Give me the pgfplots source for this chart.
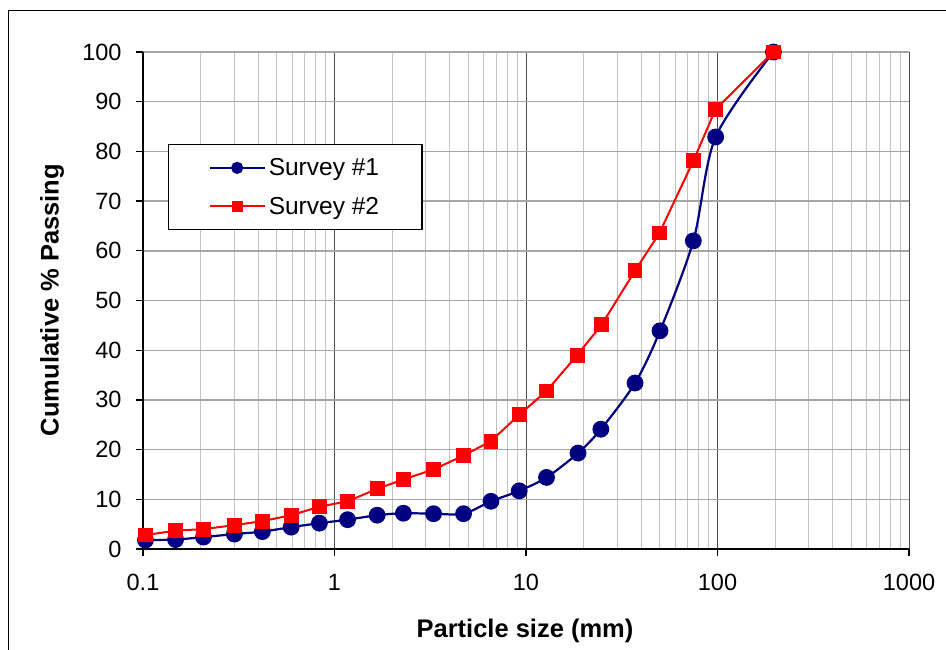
\documentclass[border=0pt]{standalone}
\usepackage{fontspec}
\setmainfont{Liberation Sans}
\usepackage{pgfplots}
\pgfplotsset{compat=1.18}
\definecolor{navyb}{RGB}{0,0,128}
\definecolor{redr}{RGB}{255,0,0}
\begin{document}
\begin{tikzpicture}[x=1pt,y=1pt]
\useasboundingbox (0,0) rectangle (946,649);
\fill[white] (0,0) rectangle (946,649);
\draw[black, line width=1.3pt] (8.3,-5) -- (8.3,638.7) -- (955,638.7);
\begin{axis}[
 at={(143pt,100pt)}, anchor=south west, scale only axis, width=766pt, height=497pt,
 xmode=log, xmin=0.1, xmax=1000, ymin=0, ymax=100,
 xtick={0.1,1,10,100,1000}, xticklabels={0.1,1,10,100,1000},
 ytick={0,10,...,100},
 axis lines=left, axis line style={-, black, line width=1.3pt},
 tick align=outside, major tick length=7pt, minor tick length=0pt,
 tick style={black, line width=1.3pt},
 xmajorgrids, xminorgrids, ymajorgrids,
 major x grid style={black!70, line width=1pt},
 minor x grid style={black!24, line width=1pt},
 major y grid style={black!35, line width=1.4pt},
 ticklabel style={font=\fontsize{23.5}{28}\selectfont},
 xticklabel style={yshift=-15pt},
 yticklabel style={xshift=-11pt},
 /pgf/number format/assume math mode=true,
 xlabel={Particle size (mm)}, ylabel={Cumulative \% Passing},
 label style={font=\bfseries\fontsize{25.5}{30}\selectfont},
 xlabel style={at={(axis description cs:0.4987,-0.165)}, anchor=center},
 ylabel style={at={(axis description cs:-0.1188,0.501)}, anchor=center},
 legend style={at={(0.0326,0.815)}, anchor=north west, draw=black, line width=1.2pt, fill=white,
   font=\fontsize{24.5}{29}\selectfont, inner xsep=40pt, inner ysep=11pt, row sep=14pt,
   nodes={inner sep=3pt}},
 legend cell align=left,
 legend image code/.code={\draw[mark repeat=2,mark phase=2,/tikz/every mark/.append style={scale=0.68}] plot coordinates {(0pt,0pt)(27.5pt,0pt)(55pt,0pt)};},
]
\addplot[navyb, line width=2.2pt, smooth, mark=*, mark size=7.3pt] coordinates {
(0.103,1.8) (0.148,1.9) (0.207,2.4) (0.30,3.0) (0.42,3.5) (0.594,4.4) (0.834,5.2)
(1.17,5.9) (1.67,6.8) (2.29,7.2) (3.29,7.1) (4.72,7.1) (6.56,9.6) (9.22,11.7)
(12.8,14.4) (18.7,19.3) (24.6,24.1) (37.1,33.4) (50.1,43.9) (74.8,62.0) (97.8,82.9) (196,100)
};
\addlegendentry{Survey \#1}
\addplot[redr, line width=2pt, mark=square*, mark size=6.4pt] coordinates {
(0.103,2.8) (0.148,3.7) (0.207,4.0) (0.30,4.8) (0.42,5.6) (0.594,6.8) (0.834,8.5)
(1.17,9.6) (1.67,12.1) (2.29,14.0) (3.29,16.0) (4.72,18.8) (6.56,21.7) (9.22,27.0)
(12.8,31.8) (18.5,39.0) (24.8,45.1) (37.1,56.0) (49.8,63.6) (74.8,78.1) (97.8,88.5) (196,100)
};
\addlegendentry{Survey \#2}
\end{axis}
\end{tikzpicture}
\end{document}
